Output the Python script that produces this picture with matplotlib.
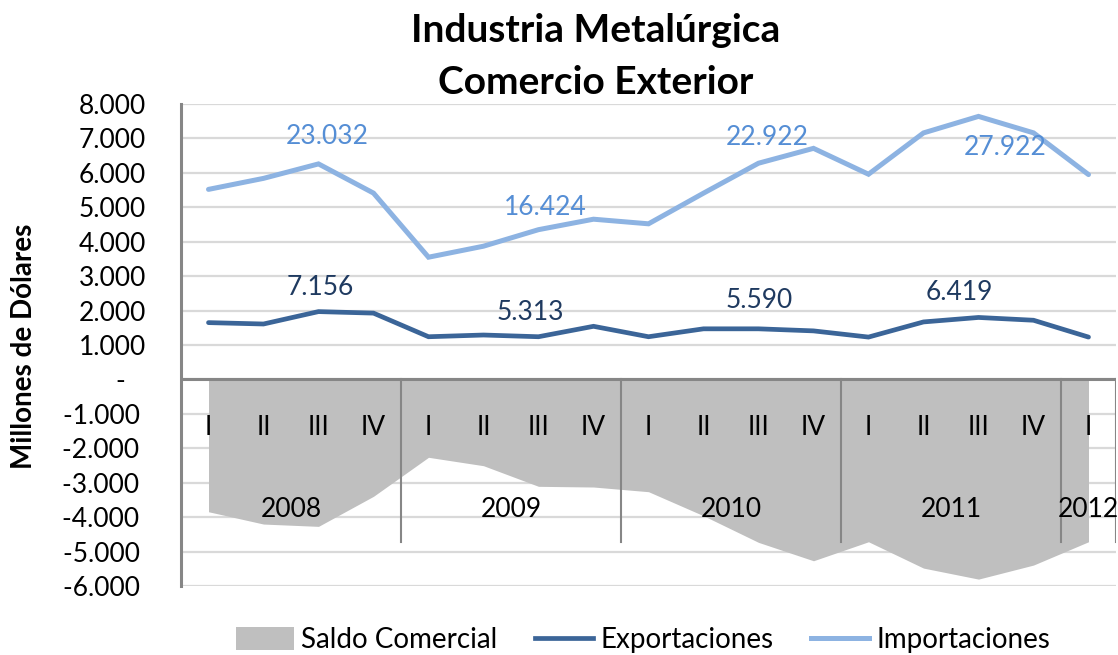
import matplotlib
matplotlib.use('Agg')
import matplotlib.pyplot as plt
from matplotlib.patches import Patch
from matplotlib.lines import Line2D

# ---------------- data ----------------
quarters = ['I', 'II', 'III', 'IV', 'I', 'II', 'III', 'IV', 'I', 'II', 'III', 'IV',
            'I', 'II', 'III', 'IV', 'I']
years = ['2008', '2009', '2010', '2011', '2012']
year_counts = [4, 4, 4, 4, 1]

exportaciones = [1650, 1610, 1970, 1926,
                 1240, 1290, 1240, 1543,
                 1240, 1470, 1470, 1410,
                 1230, 1670, 1800, 1719,
                 1230]
importaciones = [5520, 5840, 6260, 5412,
                 3550, 3870, 4350, 4654,
                 4520, 5410, 6280, 6712,
                 5960, 7160, 7640, 7162,
                 5950]
saldo = [-3843, -4201, -4268, -3395,
         -2262, -2506, -3105, -3125,
         -3261, -3959, -4733, -5267,
         -4715, -5480, -5800, -5392,
         -4715]

import_labels = ['23.032', '16.424', '22.922', '27.922']
export_labels = ['7.156', '5.313', '5.590', '6.419']

ytick_values = list(range(-6000, 8001, 1000))

# ---------------- style ----------------
plt.rcParams['font.family'] = ['Lato', 'DejaVu Sans']
C_AREA = '#BFBFBF'
C_EXP = '#3B6598'
C_IMP = '#8DB3E2'
C_EXP_TXT = '#1F3A60'
C_IMP_TXT = '#558ED5'
C_AXIS = '#868686'
C_GRID = '#D9D9D9'
FS = 19

fig = plt.figure(figsize=(11.18, 6.55), dpi=100)
ax = fig.add_axes([181/1118, 1 - 586/655, (1116 - 181)/1118, (586 - 104)/655])

x = list(range(len(quarters)))
ax.set_xlim(-0.5, len(quarters) - 0.5)
ax.set_ylim(-6000, 8000)

# grid
ax.set_yticks(ytick_values)
def fmt(v):
    if v == 0:
        return '-   '
    s = f"{abs(v):,}".replace(',', '.')
    return ('-' + s + ' ') if v < 0 else s
ax.set_yticklabels([fmt(v) for v in ytick_values], fontsize=FS)
ax.tick_params(axis='y', length=0, pad=25)
ax.tick_params(axis='x', length=0, labelbottom=False)
ax.set_xticks([])
for v in ytick_values:
    ax.axhline(v, color=C_GRID, lw=1.6, zorder=0)

for s in ['top', 'right', 'bottom']:
    ax.spines[s].set_visible(False)
ax.spines['left'].set_color(C_AXIS)
ax.spines['left'].set_linewidth(2.2)

# area
ax.fill_between(x, saldo, 0, color=C_AREA, lw=0, zorder=1)

# zero axis line
ax.axhline(0, color=C_AXIS, lw=2.2, zorder=3)

# category separators
pos = -0.5
for c in year_counts:
    pos += c
    ax.plot([pos, pos], [0, -4715], color=C_AXIS, lw=1.5, zorder=3)

# quarter / year labels
for i, q in enumerate(quarters):
    ax.text(i, -1400, q, ha='center', va='center', fontsize=FS, color='black', zorder=4)
start = 0
for yname, c in zip(years, year_counts):
    ax.text(start + (c - 1) / 2, -3780, yname, ha='center', va='center',
            fontsize=FS, color='black', zorder=4)
    start += c

# lines
ax.plot(x, exportaciones, color=C_EXP, lw=3.4, zorder=5, solid_capstyle='round',
        solid_joinstyle='miter')
ax.plot(x, importaciones, color=C_IMP, lw=3.6, zorder=5, solid_capstyle='round',
        solid_joinstyle='miter')

# annual totals labels
imp_pos = [(2.16, 7050), (6.13, 4985), (10.16, 7018), (14.49, 6730)]
exp_pos = [(2.03, 2660), (5.86, 1933), (10.02, 2280), (13.66, 2515)]
for (px, py), t in zip(imp_pos, import_labels):
    ax.text(px, py, t, ha='center', va='center', fontsize=FS, color=C_IMP_TXT, zorder=6)
for (px, py), t in zip(exp_pos, export_labels):
    ax.text(px, py, t, ha='center', va='center', fontsize=FS, color=C_EXP_TXT, zorder=6)

# y label
fig.text(24/1118, 1 - 346/655, 'Millones de Dólares', rotation=90, ha='center',
         va='center', fontsize=20, fontweight='bold')

# title
fig.text(596/1118, 1 - 42/655, 'Industria Metalúrgica', ha='center', va='baseline',
         fontsize=28, fontweight='bold')
fig.text(596/1118, 1 - 94/655, 'Comercio Exterior', ha='center', va='baseline',
         fontsize=28, fontweight='bold')

# legend
handles = [Patch(facecolor=C_AREA, edgecolor='none', label='Saldo Comercial'),
           Line2D([0], [0], color=C_EXP, lw=3.4, label='Exportaciones'),
           Line2D([0], [0], color=C_IMP, lw=3.6, label='Importaciones')]
fig.legend(handles=handles, loc='center', bbox_to_anchor=(643/1118, 1 - 640/655),
           ncol=3, frameon=False, fontsize=20, handlelength=2.1, handleheight=0.9,
           handletextpad=0.25, columnspacing=1.35, borderpad=0)

fig.savefig('out.png', dpi=100)
